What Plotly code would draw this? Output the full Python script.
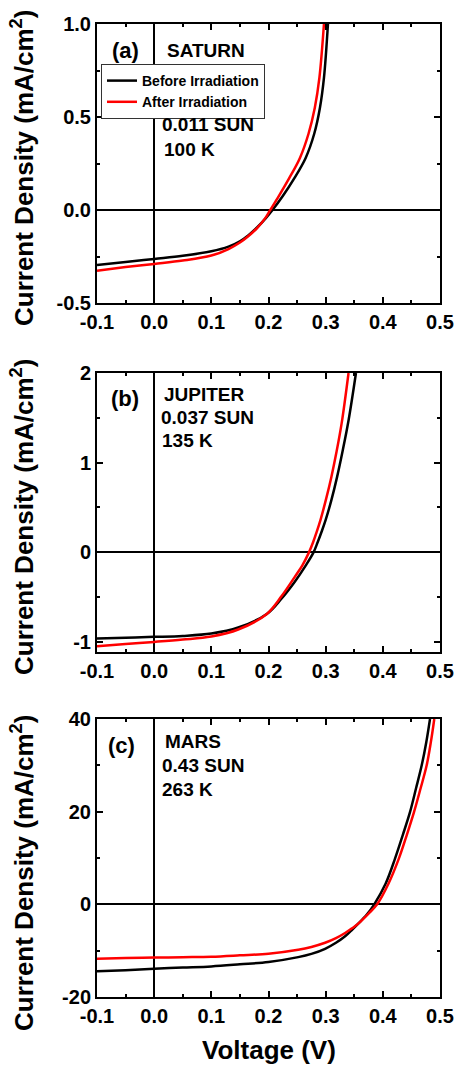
import plotly.graph_objects as go
from plotly.subplots import make_subplots

# ---------------- data ----------------
# Panel (a) SATURN
sat_before_v = [-0.1, -0.05, 0.0, 0.05, 0.1, 0.13, 0.15, 0.165, 0.18, 0.195, 0.207, 0.225, 0.245, 0.265, 0.28, 0.29, 0.297, 0.304]
sat_before_j = [-0.296, -0.28, -0.263, -0.246, -0.222, -0.197, -0.168, -0.135, -0.094, -0.045, 0.0, 0.075, 0.17, 0.28, 0.41, 0.55, 0.71, 1.0]
sat_after_v = [-0.1, -0.05, 0.0, 0.05, 0.1, 0.13, 0.15, 0.165, 0.18, 0.194, 0.203, 0.218, 0.236, 0.255, 0.27, 0.281, 0.289, 0.297]
sat_after_j = [-0.326, -0.307, -0.29, -0.272, -0.245, -0.21, -0.175, -0.14, -0.097, -0.045, 0.0, 0.075, 0.17, 0.28, 0.41, 0.55, 0.71, 1.0]

# Panel (b) JUPITER
jup_before_v = [-0.1, -0.05, 0.0, 0.05, 0.1, 0.147, 0.197, 0.223, 0.246, 0.265, 0.279, 0.286, 0.293, 0.30, 0.31, 0.32, 0.33, 0.34, 0.353]
jup_before_j = [-0.964, -0.955, -0.946, -0.935, -0.909, -0.842, -0.69, -0.517, -0.33, -0.15, 0.0, 0.11, 0.23, 0.36, 0.58, 0.84, 1.14, 1.47, 2.0]
jup_after_v = [-0.1, -0.05, 0.0, 0.05, 0.1, 0.147, 0.197, 0.223, 0.246, 0.259, 0.271, 0.278, 0.284, 0.291, 0.301, 0.31, 0.319, 0.328, 0.34]
jup_after_j = [-1.05, -1.025, -1.002, -0.976, -0.942, -0.864, -0.69, -0.49, -0.276, -0.15, 0.0, 0.11, 0.22, 0.36, 0.6, 0.84, 1.12, 1.44, 2.0]

# Panel (c) MARS
mar_before_v = [-0.1, -0.05, 0.0, 0.05, 0.1, 0.15, 0.2, 0.252, 0.275, 0.299, 0.318, 0.334, 0.347, 0.357, 0.372, 0.385, 0.405, 0.4213, 0.435, 0.4475, 0.458, 0.468, 0.476, 0.4825]
mar_before_j = [-14.46, -14.2, -13.9, -13.65, -13.4, -12.95, -12.45, -11.4, -10.7, -9.6, -8.3, -6.9, -5.4, -4.17, -2.2, 0.0, 4.5, 9.86, 15.0, 19.9, 25.0, 30.0, 35.0, 40.0]
mar_after_v = [-0.1, -0.05, 0.0, 0.05, 0.1, 0.15, 0.2, 0.252, 0.275, 0.299, 0.318, 0.334, 0.347, 0.357, 0.375, 0.39, 0.41, 0.428, 0.442, 0.4545, 0.466, 0.4767, 0.484, 0.490]
mar_after_j = [-11.73, -11.6, -11.5, -11.4, -11.3, -11.0, -10.65, -9.8, -9.2, -8.3, -7.3, -6.2, -5.1, -4.17, -2.0, 0.0, 4.5, 9.86, 15.0, 19.9, 25.0, 30.0, 35.0, 40.0]

series_names = ["Before Irradiation", "After Irradiation"]

# tick labels
x_tickvals = [-0.1, 0.0, 0.1, 0.2, 0.3, 0.4, 0.5]
x_ticktext = ["-0.1", "0.0", "0.1", "0.2", "0.3", "0.4", "0.5"]
ya_tickvals = [-0.5, 0.0, 0.5, 1.0]
ya_ticktext = ["-0.5", "0.0", "0.5", "1.0"]
yb_tickvals = [-1, 0, 1, 2]
yb_ticktext = ["-1", "0", "1", "2"]
yc_tickvals = [-20, 0, 20, 40]
yc_ticktext = ["-20", "0", "20", "40"]

panel_labels = ["(a)", "(b)", "(c)"]
panel_texts = [["SATURN", "0.011 SUN", "100 K"],
               ["JUPITER", "0.037 SUN", "135 K"],
               ["MARS", "0.43 SUN", "263 K"]]

# ---------------- layout geometry ----------------
W, H = 456, 1065
L, R, T, B = 97, 16, 24, 68
PH = H - T - B
PW = W - L - R


def px_x(px):
    return (px - L) / PW


def px_y(py):
    return (H - B - py) / PH


panel_px = [(24, 303), (373, 652), (719, 997)]

fig = make_subplots(rows=3, cols=1)

FONT = "Arial, Liberation Sans, sans-serif"
BLACK = "#000000"
RED = "#ff0000"

data = [
    (sat_before_v, sat_before_j, sat_after_v, sat_after_j),
    (jup_before_v, jup_before_j, jup_after_v, jup_after_j),
    (mar_before_v, mar_before_j, mar_after_v, mar_after_j),
]

for i, (bv, bj, av, aj) in enumerate(data):
    fig.add_trace(go.Scatter(x=bv, y=bj, mode="lines", name=series_names[0],
                             line=dict(color=BLACK, width=2.5, shape="spline", smoothing=1.0),
                             showlegend=(i == 0)), row=i + 1, col=1)
    fig.add_trace(go.Scatter(x=av, y=aj, mode="lines", name=series_names[1],
                             line=dict(color=RED, width=2.5, shape="spline", smoothing=1.0),
                             showlegend=(i == 0)), row=i + 1, col=1)

y_ranges = [[-0.5, 1.0], [-1.115, 2.0], [-20, 40]]
y_ticks = [(ya_tickvals, ya_ticktext), (yb_tickvals, yb_ticktext), (yc_tickvals, yc_ticktext)]
y_minor = [0.25, 0.5, 10]

axis_common = dict(showline=True, linewidth=2, linecolor=BLACK, mirror="ticks",
                   ticks="inside", ticklen=6, tickwidth=2, tickcolor=BLACK,
                   showgrid=False, zeroline=True, zerolinecolor=BLACK, zerolinewidth=2,
                   automargin=False,
                   tickfont=dict(family=FONT, size=20, color=BLACK, weight="bold"))

for i in range(3):
    top, bot = panel_px[i]
    dom = [px_y(bot), px_y(top)]
    xn = "xaxis" if i == 0 else f"xaxis{i+1}"
    yn = "yaxis" if i == 0 else f"yaxis{i+1}"
    fig.layout[xn].update(domain=[0, 1], range=[-0.1, 0.5], tickvals=x_tickvals, ticktext=x_ticktext,
                          minor=dict(ticks="inside", ticklen=3, tickwidth=1.5, tickcolor=BLACK, dtick=0.05,
                                     tick0=-0.1, showgrid=False),
                          **axis_common)
    fig.layout[yn].update(domain=dom, range=y_ranges[i], tickvals=y_ticks[i][0], ticktext=y_ticks[i][1],
                          minor=dict(ticks="inside", ticklen=3, tickwidth=1.5, tickcolor=BLACK,
                                     dtick=y_minor[i], tick0=0, showgrid=False),
                          **axis_common)

annotations = []
# y-axis titles
title_centers = [168, 517, 873]
for c in title_centers:
    annotations.append(dict(text="<b>Current Density (mA/cm<sup>2</sup>)</b>", xref="paper", yref="paper",
                            x=px_x(22), y=px_y(c), xanchor="center", yanchor="middle", textangle=-90,
                            showarrow=False, font=dict(family=FONT, size=26, color=BLACK)))
# x-axis title
annotations.append(dict(text="<b>Voltage (V)</b>", xref="paper", yref="paper",
                        x=px_x(269), y=px_y(1050), xanchor="center", yanchor="middle",
                        showarrow=False, font=dict(family=FONT, size=26, color=BLACK)))

label_pos = [(125, 51), (125, 398), (121, 745)]
text_pos = [[(165, 51), (160, 125), (162, 149.5)],
            [(162, 394.5), (159, 417.5), (160, 440.5)],
            [(163, 741.5), (160, 765.5), (160, 789)]]
for i in range(3):
    lx, ly = label_pos[i]
    annotations.append(dict(text="<b>" + panel_labels[i] + "</b>", xref="paper", yref="paper",
                            x=px_x(lx), y=px_y(ly), xanchor="center", yanchor="middle",
                            showarrow=False, font=dict(family=FONT, size=22, color=BLACK)))
    for t, (tx, ty) in zip(panel_texts[i], text_pos[i]):
        annotations.append(dict(text="<b>" + t + "</b>", xref="paper", yref="paper",
                                x=px_x(tx), y=px_y(ty), xanchor="left", yanchor="middle",
                                showarrow=False, font=dict(family=FONT, size=19, color=BLACK)))

fig.update_layout(
    width=W, height=H,
    margin=dict(l=L, r=R, t=T, b=B, pad=0, autoexpand=False),
    paper_bgcolor="white", plot_bgcolor="white",
    annotations=annotations,
    legend=dict(x=px_x(101), y=px_y(64), xanchor="left", yanchor="top",
                bgcolor="white", bordercolor="#333333", borderwidth=1,
                font=dict(family=FONT, size=14, color=BLACK, weight="bold"),
                tracegroupgap=0, itemwidth=30),
    showlegend=True,
)

fig.write_html("out.html", config={"displayModeBar": False},
               post_script="document.body.style.margin='0';")
